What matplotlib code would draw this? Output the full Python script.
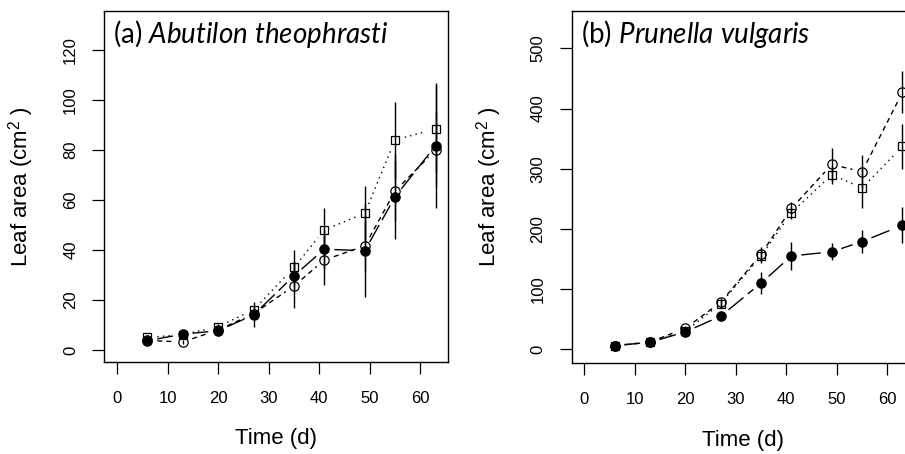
import numpy as np
import matplotlib
matplotlib.use("Agg")
import matplotlib.pyplot as plt

plt.rcParams["font.family"] = ["Liberation Sans", "DejaVu Sans"]
plt.rcParams["mathtext.fontset"] = "custom"
plt.rcParams["mathtext.rm"] = "Liberation Sans"
plt.rcParams["mathtext.it"] = "Lato:italic"

# sampling days
time = [6, 13, 20, 27, 35, 41, 49, 55, 63]

# (a) Abutilon theophrasti
a_sq = [5.0, 6.1, 9.3, 16.0, 33.0, 48.0, 54.7, 84.0, 88.4]
a_sq_se = [0.8, 1.0, 1.2, 1.5, 7.0, 8.7, 11.0, 15.3, 17.6]
a_oc = [3.8, 3.2, 8.0, 14.5, 25.6, 36.0, 41.6, 63.6, 80.0]
a_oc_se = [0.6, 0.8, 1.0, 2.0, 9.0, 10.0, 10.0, 12.0, 15.0]
a_fc = [3.7, 6.3, 7.7, 14.0, 29.7, 40.3, 39.7, 61.3, 81.7]
a_fc_se = [0.7, 1.0, 2.0, 5.0, 6.0, 8.0, 18.5, 17.0, 25.0]

# (b) Prunella vulgaris
b_sq = [6, 12, 30, 76, 155, 227, 290, 268, 337]
b_sq_se = [2, 3, 4, 8, 12, 10, 15, 34, 38]
b_oc = [6, 12, 35, 78, 158, 234, 307, 295, 427]
b_oc_se = [2, 3, 4, 8, 12, 10, 27, 28, 35]
b_fc = [6, 11.6, 29, 55, 110, 155, 162, 179, 206]
b_fc_se = [2, 3, 4, 7, 18, 23, 14, 19, 30]

LW = 1.0
LONGDASH = (0, (14, 4))
DASHED = (0, (3.6, 2.9))
DOTTED = (0, (1, 3))


def gapped_line(ax, x, y, gap_px, **kw):
    # R type="b": segments stop short of the points
    pts = ax.transData.transform(np.column_stack([x, y]))
    inv = ax.transData.inverted()
    for p, q in zip(pts[:-1], pts[1:]):
        d = q - p
        L = np.hypot(*d)
        if L <= 2 * gap_px:
            continue
        u = d / L
        a, b = inv.transform(np.array([p + u * gap_px, q - u * gap_px]))
        ax.plot([a[0], b[0]], [a[1], b[1]], color="black", lw=LW, **kw)


def panel(ax, series, ylim, yticks, title):
    ax.set_xlim(-2.52, 65.52)
    ax.set_ylim(*ylim)
    for y, se, ls, marker, ms, filled in series:
        y = np.asarray(y, float)
        se = np.asarray(se, float)
        ax.vlines(time, y - se, y + se, color="black", lw=1.0, zorder=2)
        gapped_line(ax, time, y, 10, linestyle=ls, zorder=2)
        ax.plot(time, y, linestyle="none", marker=marker, ms=ms,
                mfc="black" if filled else "none", mec="black", mew=0.9,
                zorder=3)
    ax.set_xticks(range(0, 61, 10))
    ax.set_yticks(yticks)
    ax.tick_params(direction="out", length=8.3, width=0.9, labelsize=12)
    ax.tick_params(axis="x", pad=13)
    ax.tick_params(axis="y", pad=10.5, labelrotation=90)
    plt.setp(ax.get_yticklabels(), va="center")
    for s in ax.spines.values():
        s.set_linewidth(1.0)
    ax.set_xlabel("Time (d)", fontsize=16, va="center")
    ax.xaxis.set_label_coords(0.5, -0.220)
    ax.set_ylabel("Leaf area (cm$^{2}$ )", fontsize=16, va="center")
    ax.yaxis.set_label_coords(-0.239, 0.5)
    ax.text(0.026, 0.909, title, transform=ax.transAxes, fontsize=20,
            family="Lato", ha="left", va="baseline")


fig = plt.figure(figsize=(9.05, 4.54), dpi=100)
ax1 = fig.add_axes([104.3 / 905, 1 - 361.7 / 454, 344 / 905, 350.7 / 454])
ax2 = fig.add_axes([571.7 / 905, 1 - 362.7 / 454, 343.5 / 905, 351.7 / 454])

panel(ax1,
      [(a_fc, a_fc_se, LONGDASH, "o", 6.7, True),
       (a_oc, a_oc_se, DASHED, "o", 6.7, False),
       (a_sq, a_sq_se, DOTTED, "s", 6.0, False)],
      (-4.7, 135.6), range(0, 121, 20),
      r"(a) $\mathit{Abutilon\ theophrasti}$")
panel(ax2,
      [(b_fc, b_fc_se, LONGDASH, "o", 6.7, True),
       (b_oc, b_oc_se, DASHED, "o", 6.7, False),
       (b_sq, b_sq_se, DOTTED, "s", 6.0, False)],
      (-22.3, 562), range(0, 501, 100),
      r"(b) $\mathit{Prunella\ vulgaris}$")

fig.savefig("out.png", dpi=100)
